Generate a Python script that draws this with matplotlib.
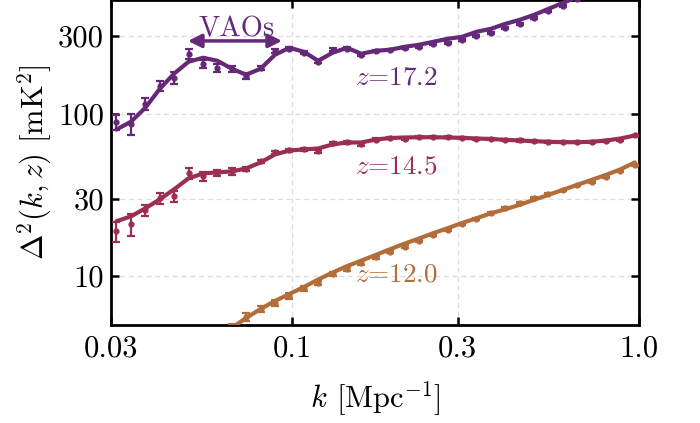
"""Power spectrum Delta^2(k,z) at three redshifts, with VAO wiggles marked."""

import numpy as np
import matplotlib
matplotlib.use("Agg")
import matplotlib.pyplot as plt

plt.rcParams["font.family"] = "serif"
plt.rcParams["font.serif"] = ["cmr10"]
plt.rcParams["mathtext.fontset"] = "cm"
plt.rcParams["axes.formatter.use_mathtext"] = True
plt.rcParams["axes.unicode_minus"] = False

# ─── Data ───
k = [0.0311, 0.0343, 0.0377, 0.0415, 0.0456, 0.0502, 0.0553, 0.0608, 0.0669,
     0.0736, 0.0810, 0.0891, 0.0981, 0.1079, 0.1187, 0.1306, 0.1437, 0.1581,
     0.1740, 0.1915, 0.2107, 0.2318, 0.2550, 0.2806, 0.3088, 0.3397, 0.3738,
     0.4113, 0.4526, 0.4980, 0.5479, 0.6029, 0.6633, 0.7299, 0.8031, 0.8836,
     0.9723]

# z = 17.2
d172 = [88.4, 86.8, 115.2, 148.5, 166.3, 233.4, 202.6, 191.5, 188.8, 171.1,
        191.5, 243.5, 250.5, 236.7, 208.4, 247.0, 250.5, 230.0, 243.5, 247.0,
        254.0, 257.6, 268.8, 272.6, 284.4, 301.0, 314.1, 337.2, 356.6, 388.2,
        428.4, 459.7, 507.7, 560.5, 627.3, 712.6, 809.0]
e172 = [9.2, 13.2, 10.0, 11.0, 15.0, 17.0, 12.0, 11.0, 8.0, 7.0,
        6.0, 7.0, 6.0, 5.0, 4.0, 5.0, 5.0, 4.0, 4.0, 4.0,
        4.0, 4.0, 4.0, 4.0, 4.0, 4.0, 4.0, 4.0, 4.0, 4.0,
        4.0, 4.0, 4.0, 4.0, 4.0, 4.0, 4.0]
m172 = [79.8, 89.3, 108.8, 142.3, 176.0, 208.5, 220.6, 211.4, 188.8, 173.5,
        188.8, 230.1, 254.1, 240.1, 211.4, 236.7, 254.1, 233.4, 243.5, 247.0,
        257.6, 265.0, 276.5, 288.5, 296.8, 318.6, 332.3, 356.6, 377.4, 405.0,
        440.9, 479.7, 522.0, 576.0, 645.0, 733.0, 832.0]

# z = 14.5
d145 = [18.88, 20.84, 25.41, 30.10, 30.96, 42.84, 41.07, 42.84, 44.07, 45.34,
        50.76, 57.63, 59.29, 60.14, 58.45, 65.46, 66.39, 64.55, 69.25, 70.94,
        69.94, 71.55, 71.55, 71.55, 70.94, 69.94, 69.94, 68.97, 68.29, 67.62,
        66.67, 66.67, 66.67, 66.67, 67.62, 68.97, 73.30]
e145 = [2.6, 3.1, 1.9, 2.2, 2.3, 3.1, 2.4, 1.8, 1.9, 1.3,
        1.4, 1.2, 1.0, 1.0, 1.0, 1.0, 1.0, 1.0, 1.0, 1.0,
        1.0, 1.0, 1.0, 1.0, 1.0, 1.0, 1.0, 1.0, 1.0, 1.0,
        1.0, 1.0, 1.0, 1.0, 1.0, 1.0, 1.0]
m145 = [21.75, 23.34, 26.14, 29.69, 34.18, 39.93, 42.84, 43.45, 44.07, 45.98,
        50.05, 56.03, 59.29, 60.14, 60.99, 64.55, 66.39, 66.39, 69.25, 70.73,
        71.24, 71.55, 71.55, 71.24, 70.94, 70.24, 69.75, 68.97, 68.29, 67.62,
        67.05, 66.67, 66.67, 67.05, 68.29, 70.24, 73.30]

# z = 12.0 (lowest k bins fall below the axis)
k120 = k[8:]
d120 = [4.75, 5.603, 6.272, 6.831, 7.54, 8.44, 9.06, 10.28, 11.04, 12.02,
        13.08, 14.13, 15.13, 16.47, 17.85, 19.15, 21.05, 22.59, 24.45, 26.40,
        28.17, 30.22, 32.16, 33.69, 36.16, 37.89, 40.66, 44.26, 47.97]
e120 = [0.3, 0.3, 0.3, 0.3, 0.3, 0.3, 0.3, 0.3, 0.3, 0.3,
        0.3, 0.3, 0.3, 0.3, 0.3, 0.3, 0.3, 0.3, 0.3, 0.3,
        0.3, 0.3, 0.3, 0.3, 0.3, 0.3, 0.3, 0.3, 0.3]
m120 = [4.80, 5.524, 6.272, 7.024, 7.757, 8.56, 9.52, 10.51, 11.51, 12.45,
        13.49, 14.64, 15.83, 17.03, 18.36, 19.71, 21.23, 22.68, 24.35, 25.76,
        27.46, 29.46, 31.62, 33.93, 36.41, 39.08, 41.95, 45.34, 50.05]

series = [
    (k, d172, e172, m172, "#66297A", r"$z$=17.2", 152),
    (k, d145, e145, m145, "#9C2F50", r"$z$=14.5", 43.0),
    (k120, d120, e120, m120, "#B36D3A", r"$z$=12.0", 9.23),
]

xticks = [0.03, 0.1, 0.3, 1.0]
xticklabels = ["0.03", "0.1", "0.3", "1.0"]
yticks = [10, 30, 100, 300]
yticklabels = ["10", "30", "100", "300"]

# ─── Figure ───
fig = plt.figure(figsize=(7, 4.23), dpi=100)
ax = fig.add_axes([0.1586, 0.2317, 0.7543, 0.7683])
ax.set_xscale("log")
ax.set_yscale("log")

for kk, d, e, m, c, lab, ylab in series:
    ax.errorbar(kk, d, yerr=e, fmt="o", ms=3.5, color=c, elinewidth=1.6,
                capsize=3, capthick=1.6, zorder=3)
    ax.plot(kk, m, color=c, lw=3, zorder=4, solid_capstyle="round")
    ax.text(0.152, ylab, lab, color=c, fontsize=19.5, ha="left", va="baseline")

# VAO arrow
purple = series[0][4]
ax.annotate("", xy=(0.0934, 280), xytext=(0.050, 280),
            arrowprops=dict(arrowstyle="<|-|>", color=purple, lw=2.5,
                            mutation_scale=20, shrinkA=0, shrinkB=0), zorder=5)
ax.text(0.0693, 300, "VAOs", color=purple, fontsize=20.5, ha="center", va="baseline")

ax.set_xlim(0.03, 1.0)
ax.set_ylim(5, 500)
ax.set_xticks(xticks)
ax.set_xticklabels(xticklabels)
ax.set_yticks(yticks)
ax.set_yticklabels(yticklabels)
ax.minorticks_off()
ax.tick_params(which="major", direction="in", length=6, width=1.8,
               top=True, right=True, labelsize=22)
ax.tick_params(axis="x", pad=7)
ax.tick_params(axis="y", pad=5)
ax.grid(True, color="#dddddd", ls=(0, (4, 3)), lw=0.9, zorder=0)
for s in ax.spines.values():
    s.set_linewidth(2)

ax.set_xlabel(r"$k$ [Mpc$^{-1}$]", fontsize=22, labelpad=12)
ax.set_ylabel(r"$\Delta^2(k,z)$ [mK$^2$]", fontsize=22, labelpad=3)

fig.savefig("out.png", dpi=100)
print("saved out.png")
